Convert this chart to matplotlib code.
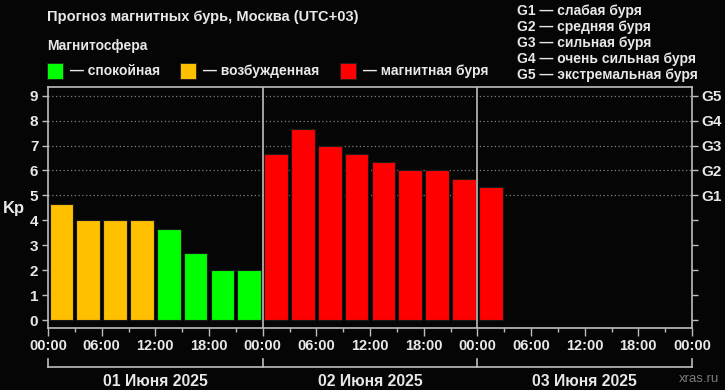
import matplotlib.pyplot as plt

# Kp forecast, 3-hour intervals starting 01.06.2025 00:00
kp = [4.67, 4.0, 4.0, 4.0, 3.67, 2.67, 2.0, 2.0,
      6.67, 7.67, 7.0, 6.67, 6.33, 6.0, 6.0, 5.67,
      5.33]
hour_labels = ["00:00", "06:00", "12:00", "18:00"] * 3 + ["00:00"]
day_labels = ["01 Июня 2025", "02 Июня 2025", "03 Июня 2025"]
g_labels = ["G1", "G2", "G3", "G4", "G5"]
g_text = ["G1 — слабая буря", "G2 — средняя буря", "G3 — сильная буря",
          "G4 — очень сильная буря", "G5 — экстремальная буря"]
legend_items = [("#00FF00", "— спокойная"), ("#FFC000", "— возбужденная"),
                ("#FF0000", "— магнитная буря")]

BG = "#050505"
FG = "#E8E8E8"
SPINE = "#BDBDBD"

plt.rcParams['font.family'] = ['Liberation Sans', 'DejaVu Sans']


def kp_color(v):
    if v >= 5:
        return "#FF0000"
    if v >= 4:
        return "#FFC000"
    return "#00FF00"


fig = plt.figure(figsize=(7.25, 3.9), dpi=100, facecolor=BG)
ax = fig.add_axes([48 / 725, 62 / 390, 644 / 725, 241 / 390])
ax.set_facecolor(BG)

x = [1.5 + 3 * i for i in range(len(kp))]
ax.bar(x, kp, width=2.65, color=[kp_color(v) for v in kp],
       edgecolor="#1a1a1a", linewidth=0.8, zorder=3)

for lvl in range(5, 10):
    ax.axhline(lvl, color="#808080", linestyle=(0, (1, 2)), linewidth=0.9, zorder=1)
for d in (24, 48):
    ax.axvline(d, color=SPINE, linewidth=1.2, zorder=4)

ax.set_xlim(0, 72)
ax.set_ylim(-0.32, 9.35)
for s in ax.spines.values():
    s.set_color(SPINE)
    s.set_linewidth(1.2)

ax.set_yticks(range(10))
ax.tick_params(axis='y', colors=SPINE, length=4, width=1, labelsize=11, pad=3)
for t in ax.get_yticklabels():
    t.set_color(FG)
    t.set_fontweight('bold')

ax.set_xticks(range(0, 73, 6))
ax.set_xticklabels(hour_labels)
ax.set_xticks(range(3, 73, 6), minor=True)
ax.tick_params(axis='x', which='major', colors=SPINE, length=6, width=1,
               labelsize=10.5, pad=2)
ax.tick_params(axis='x', which='minor', colors=SPINE, length=3, width=1)
for t in ax.get_xticklabels():
    t.set_color(FG)
    t.set_fontweight('bold')

ax2 = ax.twinx()
ax2.set_ylim(ax.get_ylim())
ax2.set_yticks(range(10))
ax2.set_yticklabels([""] * 5 + g_labels)
ax2.tick_params(axis='y', colors=SPINE, length=4, width=1, labelsize=11, pad=3)
for t in ax2.get_yticklabels():
    t.set_color(FG)
    t.set_fontweight('bold')
for s in ax2.spines.values():
    s.set_visible(False)

ax.text(-0.053, 0.494, "Kp", transform=ax.transAxes, color=FG, fontsize=12,
        fontweight='bold', ha='center', va='center')

# day brackets under the time axis
tr = ax.get_xaxis_transform()
ax.plot([0, 72], [-0.162, -0.162], transform=tr, color=SPINE, lw=1.2, clip_on=False)
for d in (0, 24, 48, 72):
    ax.plot([d, d], [-0.162, -0.13], transform=tr, color=SPINE, lw=1.2, clip_on=False)
for i, lab in enumerate(day_labels):
    ax.text(12 + 24 * i, -0.22, lab, transform=tr, color=FG, fontsize=11.3,
            fontweight='bold', ha='center', va='center')

# header texts
fig.text(47 / 725, 1 - 17 / 390, "Прогноз магнитных бурь, Москва (UTC+03)",
         color=FG, fontsize=10.5, fontweight='bold', va='center')
fig.text(47 / 725, 1 - 46 / 390, "Магнитосфера", color=FG, fontsize=10,
         fontweight='bold', va='center')
legend_x = [47, 180, 340]
for lx, (c, lab) in zip(legend_x, legend_items):
    fig.patches.append(plt.Rectangle((lx / 725, 1 - 79 / 390), 16 / 725, 16 / 390,
                                     transform=fig.transFigure, facecolor=c,
                                     edgecolor="#222222", lw=0.6))
    fig.text((lx + 23) / 725, 1 - 71 / 390, lab, color=FG, fontsize=10,
             fontweight='bold', va='center')
for i, lab in enumerate(g_text):
    fig.text(517 / 725, 1 - (11 + 16 * i) / 390, lab, color=FG, fontsize=10,
             fontweight='bold', va='center')

fig.text(719 / 725, 1 - 379 / 390, "xras.ru", color="#7a7a7a", fontsize=9.5,
         ha='right', va='center')

fig.savefig("out.png", dpi=100, facecolor=BG)
